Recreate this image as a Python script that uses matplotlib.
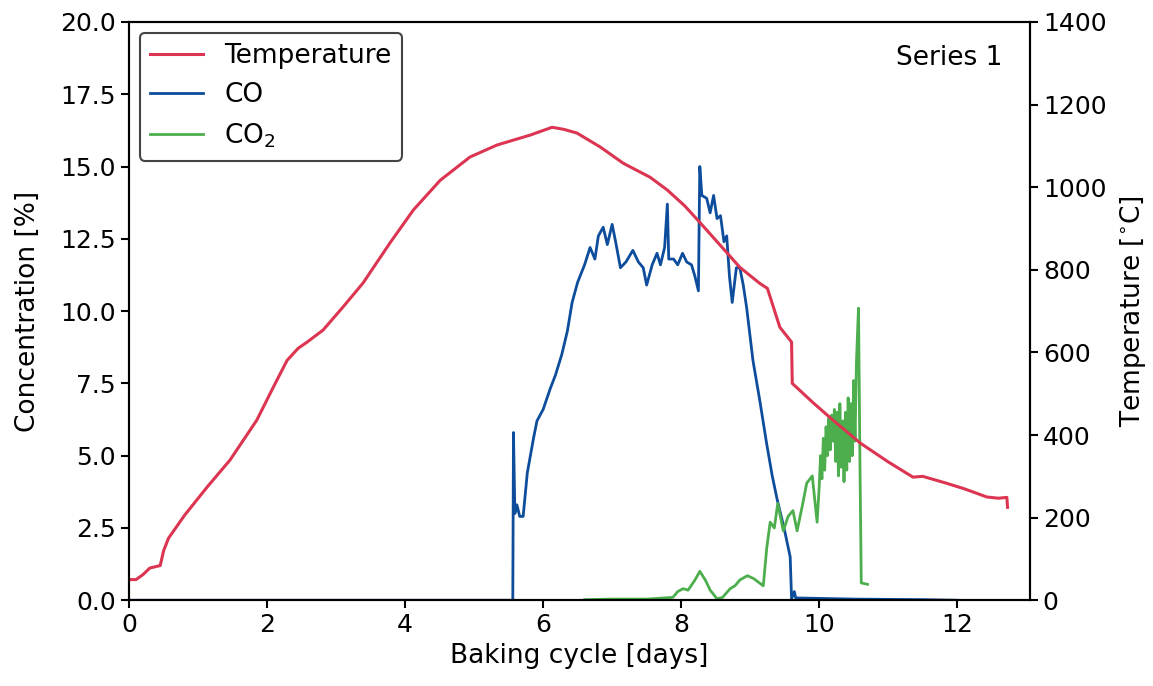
import matplotlib.pyplot as plt

# temperature [degC] vs. baking time [days]
t_days = [0.0, 0.1, 0.2, 0.3, 0.4, 0.45, 0.5, 0.57, 0.8, 1.13, 1.46, 1.85, 2.09, 2.29, 2.45,
          2.58, 2.81, 3.1, 3.39, 3.78, 4.12, 4.51, 4.94, 5.33, 5.81, 6.13, 6.3, 6.49, 6.83,
          7.16, 7.55, 7.8, 8.05, 8.28, 8.67, 8.85, 9.14, 9.25, 9.43, 9.6, 9.61, 9.72, 9.9,
          10.2, 10.6, 11.0, 11.36, 11.5, 11.85, 12.1, 12.43, 12.6, 12.72, 12.73]
temp = [50, 50, 62, 78, 82, 84, 120, 150, 205, 274, 339, 436, 516, 581, 610,
        625, 654, 710, 768, 865, 945, 1017, 1073, 1102, 1126, 1145, 1140, 1131, 1097,
        1058, 1024, 993, 955, 913, 840, 806, 767, 755, 661, 625, 525, 508, 480,
        436, 380, 335, 298, 300, 283, 270, 250, 247, 249, 225]

# CO concentration [%]
co_days = [0.0, 5.56, 5.57, 5.59, 5.62, 5.66, 5.71, 5.77, 5.86, 5.91, 6.0, 6.1, 6.18, 6.27,
           6.35, 6.42, 6.5, 6.6, 6.68, 6.75, 6.8, 6.87, 6.93, 7.0, 7.05, 7.12, 7.2, 7.3,
           7.38, 7.45, 7.5, 7.58, 7.65, 7.7, 7.76, 7.8, 7.82, 7.89, 7.95, 8.02, 8.08, 8.15,
           8.2, 8.25, 8.27, 8.3, 8.37, 8.42, 8.47, 8.52, 8.57, 8.62, 8.66, 8.7, 8.74, 8.8,
           8.85, 8.9, 8.95, 9.04, 9.14, 9.24, 9.32, 9.39, 9.5, 9.58, 9.6, 9.64, 9.66, 10.5,
           11.5, 12.0]
co = [0.0, 0.0, 5.8, 3.0, 3.3, 2.9, 2.9, 4.4, 5.6, 6.2, 6.6, 7.3, 7.8, 8.5,
      9.3, 10.3, 11.0, 11.6, 12.2, 11.8, 12.6, 12.9, 12.3, 13.0, 12.4, 11.5, 11.7, 12.1,
      11.7, 11.5, 10.9, 11.6, 12.0, 11.6, 12.2, 13.7, 11.8, 11.8, 11.6, 12.0, 11.7, 11.6,
      11.2, 10.7, 15.0, 14.0, 13.9, 13.4, 14.0, 13.2, 13.3, 12.4, 12.6, 11.2, 10.3, 11.5,
      11.5, 10.9, 10.1, 8.3, 6.9, 5.4, 4.3, 3.5, 2.4, 1.5, 0.05, 0.3, 0.08, 0.04,
      0.02, 0.0]

# CO2 concentration [%]
co2_days = [6.6, 7.0, 7.5, 7.88, 7.95, 8.03, 8.1, 8.2, 8.27, 8.35, 8.42, 8.52, 8.6, 8.71,
            8.78, 8.85, 8.96, 9.05, 9.19, 9.24, 9.29, 9.35, 9.4, 9.48, 9.55, 9.62, 9.68, 9.75,
            9.82, 9.9, 9.97, 10.0, 10.02, 10.04, 10.06, 10.08, 10.1, 10.12, 10.14, 10.16,
            10.18, 10.2, 10.22, 10.24, 10.26, 10.28, 10.3, 10.32, 10.34, 10.36, 10.38, 10.4,
            10.42, 10.44, 10.46, 10.48, 10.5, 10.52, 10.54, 10.56, 10.57, 10.59, 10.61, 10.7]
co2 = [0.02, 0.04, 0.04, 0.1, 0.3, 0.4, 0.35, 0.7, 1.0, 0.7, 0.35, 0.05, 0.1, 0.4,
       0.5, 0.7, 0.85, 0.75, 0.5, 1.8, 2.7, 2.5, 3.35, 2.4, 2.9, 3.1, 2.4, 3.2,
       4.05, 4.3, 2.7, 3.9, 5.0, 4.2, 5.6, 4.5, 6.0, 5.0, 6.3, 5.2,
       6.4, 5.5, 6.6, 4.8, 6.5, 4.3, 6.8, 4.6, 6.2, 4.1, 6.5, 4.5,
       7.0, 4.8, 6.8, 5.0, 7.6, 5.5, 8.2, 9.5, 10.1, 5.0, 0.6, 0.55]

fig = plt.figure(figsize=(11.53, 6.86), dpi=100)
ax = fig.add_axes([0.112, 0.125, 0.781, 0.843])
ax2 = ax.twinx()

red = '#dc3551'
blue = '#0d4d9c'
green = '#4cae4c'

lt, = ax2.plot(t_days, temp, color=red, lw=2.2)
lco, = ax.plot(co_days, co, color=blue, lw=2.0)
lco2, = ax.plot(co2_days, co2, color=green, lw=2.0)

ax.set_xlim(0, 13.05)
ax.set_ylim(0, 20)
ax2.set_ylim(0, 1400)
ax.set_xticks([0, 2, 4, 6, 8, 10, 12])
ax.set_yticks([0, 2.5, 5, 7.5, 10, 12.5, 15, 17.5, 20])
ax.set_yticklabels(['0.0', '2.5', '5.0', '7.5', '10.0', '12.5', '15.0', '17.5', '20.0'])

fs = 19
ax.set_xlabel('Baking cycle [days]', fontsize=fs, labelpad=4)
ax.set_ylabel('Concentration [%]', fontsize=fs, labelpad=14)
ax2.set_ylabel(r'Temperature [$^{\circ}$C]', fontsize=fs, labelpad=8)
for a in (ax, ax2):
    a.tick_params(labelsize=18, width=1.5, length=6)
    for s in a.spines.values():
        s.set_linewidth(1.5)

ax.text(0.97, 0.96, 'Series 1', transform=ax.transAxes, ha='right', va='top', fontsize=fs)

leg = ax.legend([lt, lco, lco2], ['Temperature', 'CO', 'CO$_2$'], loc='upper left',
                fontsize=fs, framealpha=1, fancybox=True, borderaxespad=0.4)
leg.get_frame().set_edgecolor('#444444')
leg.get_frame().set_linewidth(1.5)
leg.set_zorder(5)

plt.savefig('out.png', dpi=100)
